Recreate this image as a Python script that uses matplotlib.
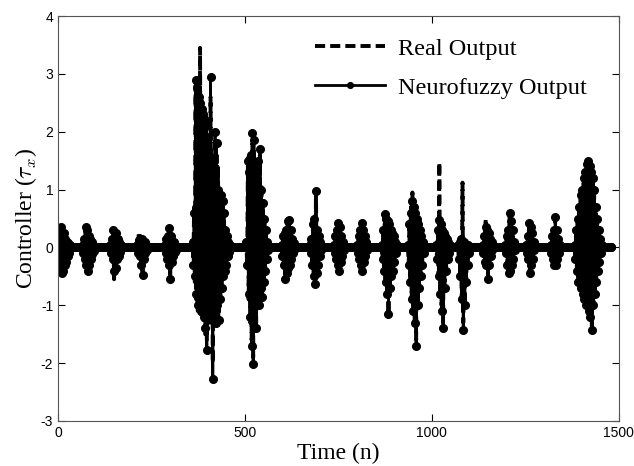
import numpy as np
import matplotlib
import matplotlib.pyplot as plt

matplotlib.use('Agg')

# sample grid of the recorded signal (every second sample is kept)
n_end = 1480
step = 2

# bursts of controller activity: start sample and values (one per kept sample)
burst_starts = [0, 66, 140, 212, 286, 360, 504, 598, 674, 738, 800,
                866, 936, 1012, 1070, 1136, 1196, 1252, 1318, 1382]

nf_bursts = [
    [0.05, -0.15, 0.3, -0.35, 0.35, -0.45, 0.2, -0.4, 0.25, -0.3, 0.15, -0.25, 0.1, -0.15, 0.08, -0.1, 0.05],
    [0.05, -0.1, 0.15, -0.2, 0.35, -0.3, 0.3, -0.4, 0.2, -0.3, 0.15, -0.2, 0.1, -0.12, 0.05, -0.06],
    [0.05, -0.1, 0.15, -0.2, 0.3, -0.4, 0.2, -0.35, 0.25, -0.2, 0.15, -0.15, 0.1, -0.08, 0.05],
    [0.05, -0.1, 0.12, -0.15, 0.1, -0.3, 0.15, -0.48, 0.1, -0.2, 0.1, -0.1, 0.05, -0.05],
    [0.05, -0.1, 0.15, -0.2, 0.2, -0.3, 0.33, -0.55, 0.2, -0.25, 0.1, -0.15, 0.1, -0.08, 0.05, -0.04],
    [0.1, -0.3, 0.6, -0.5, 2.9, -0.8, 2.75, -1.0, 2.6, -0.9, 2.5, -1.1, 2.4, -0.9, 2.3, -1.2, 2.2,
     -1.4, 2.1, -1.78, 1.9, -1.0, 1.6, -1.2, 2.94, -0.9, 1.2, -2.28, 1.5, -1.1, 2.0, -1.3, 1.8,
     -1.0, 1.0, -1.25, 0.7, -0.9, 0.9, -0.7, 0.8, -0.5, 0.6, -0.4, 0.3, -0.3, 0.2, -0.15, 0.1, -0.08, 0.05],
    [0.1, -0.3, 1.5, -0.8, 1.3, -1.2, 1.6, -1.7, 1.97, -2.02, 1.85, -1.0, 1.4, -1.4, 1.2, -0.9, 1.5,
     -1.0, 1.71, -0.7, 1.0, -0.85, 0.76, -0.6, 0.5, -0.4, 0.3, -0.2, 0.1, -0.05],
    [0.05, -0.15, 0.2, -0.3, 0.25, -0.54, 0.3, -0.45, 0.45, -0.35, 0.47, -0.3, 0.3, -0.2, 0.15, -0.1, 0.08, -0.05],
    [0.05, -0.1, 0.15, -0.3, 0.4, -0.5, 0.5, -0.63, 0.98, -0.45, 0.3, -0.3, 0.2, -0.15, 0.1, -0.05],
    [0.05, -0.1, 0.2, -0.2, 0.3, -0.3, 0.43, -0.4, 0.35, -0.25, 0.2, -0.15, 0.1, -0.05],
    [0.05, -0.1, 0.2, -0.2, 0.3, -0.3, 0.43, -0.4, 0.3, -0.25, 0.2, -0.15, 0.1, -0.05],
    [0.05, -0.2, 0.3, -0.4, 0.58, -0.6, 0.5, -0.8, 0.45, -1.15, 0.4, -0.7, 0.3, -0.5, 0.25, -0.4, 0.2,
     -0.25, 0.1, -0.1, 0.05],
    [0.05, -0.3, 0.4, -0.6, 0.6, -0.9, 0.81, -1.1, 0.7, -1.3, 0.6, -1.7, 0.5, -1.0, 0.4, -0.7, 0.3,
     -0.5, 0.2, -0.3, 0.1, -0.1],
    [0.05, -0.2, 0.3, -0.5, 0.47, -0.8, 0.4, -1.1, 0.3, -1.4, 0.25, -0.7, 0.2, -0.4, 0.15, -0.2, 0.1, -0.1, 0.05],
    [0.05, -0.2, 0.1, -0.5, 0.15, -0.9, 0.1, -1.43, 0.1, -1.0, 0.05, -0.6, 0.05, -0.3, 0.05, -0.1],
    [0.05, -0.1, 0.2, -0.25, 0.35, -0.3, 0.3, -0.54, 0.25, -0.3, 0.15, -0.15, 0.1, -0.05],
    [0.05, -0.1, 0.2, -0.3, 0.3, -0.45, 0.6, -0.4, 0.45, -0.3, 0.3, -0.2, 0.1, -0.05],
    [0.05, -0.1, 0.2, -0.2, 0.43, -0.45, 0.35, -0.3, 0.25, -0.2, 0.1, -0.05],
    [0.05, -0.1, 0.2, -0.2, 0.3, -0.31, 0.52, -0.3, 0.3, -0.2, 0.15, -0.1, 0.05],
    [0.05, -0.2, 0.3, -0.4, 0.5, -0.6, 0.7, -0.5, 0.9, -0.7, 1.0, -0.8, 1.2, -0.9, 1.3, -1.0, 1.45,
     -0.9, 1.5, -1.1, 1.4, -1.2, 1.3, -1.43, 1.2, -1.0, 1.0, -0.8, 0.7, -0.6, 0.5, -0.4, 0.3, -0.25,
     0.15, -0.1, 0.05],
]

# real output, only where it differs from the neurofuzzy output
real_bursts = {
    0: [0.05, -0.12, 0.28, -0.3, 0.3, -0.42, 0.22, -0.38, 0.2, -0.32, 0.12, -0.2, 0.1, -0.12, 0.06, -0.08, 0.04],
    2: [0.05, -0.12, 0.12, -0.25, 0.28, -0.55, 0.2, -0.3, 0.22, -0.2, 0.12, -0.12, 0.08, -0.06, 0.04],
    3: [0.05, -0.1, 0.25, -0.15, 0.2, -0.3, 0.12, -0.42, 0.1, -0.2, 0.1, -0.1, 0.05, -0.05],
    5: [0.1, -0.35, 0.7, -0.6, 2.8, -0.9, 2.9, -1.1, 2.5, -1.0, 3.45, -1.2, 2.3, -1.0, 2.4, -1.3, 2.1,
        -1.5, 2.3, -1.6, 1.8, -1.1, 1.7, -1.3, 2.6, -1.0, 1.4, -2.0, 1.3, -1.2, 1.9, -1.2, 1.6,
        -1.1, 1.38, -1.3, 0.9, -0.95, 0.8, -0.7, 0.7, -0.5, 0.5, -0.4, 0.3, -0.3, 0.2, -0.15, 0.1, -0.08, 0.05],
    6: [0.1, -0.35, 1.55, -0.9, 1.4, -1.3, 1.5, -1.6, 1.8, -1.9, 1.7, -1.1, 1.5, -1.3, 1.3, -1.0, 1.4,
        -0.9, 1.6, -0.8, 1.1, -0.8, 0.7, -0.6, 0.5, -0.4, 0.3, -0.2, 0.1, -0.05],
    12: [0.05, -0.3, 0.45, -0.6, 0.7, -0.9, 0.95, -1.1, 0.7, -1.3, 0.6, -1.6, 0.5, -1.0, 0.4, -0.7, 0.3,
         -0.5, 0.2, -0.3, 0.1, -0.1],
    13: [0.05, -0.2, 0.3, -0.5, 1.47, -0.8, 0.4, -1.0, 0.3, -1.3, 0.25, -0.7, 0.2, -0.4, 0.15, -0.2, 0.1, -0.1, 0.05],
    14: [0.05, -0.2, 0.1, -0.5, 0.15, -0.9, 1.12, -1.3, 0.1, -1.0, 0.05, -0.6, 0.05, -0.3, 0.05, -0.1],
    15: [0.05, -0.1, 0.2, -0.25, 0.5, -0.3, 0.3, -0.5, 0.25, -0.3, 0.15, -0.15, 0.1, -0.05],
}

t = np.arange(0, n_end + 1, step)
nf = np.zeros(len(t))
real = np.zeros(len(t))
for i, (start, vals) in enumerate(zip(burst_starts, nf_bursts)):
    k = start // step
    nf[k:k + len(vals)] = vals
    rv = real_bursts.get(i, vals)
    real[k:k + len(rv)] = rv

plt.rcParams['axes.unicode_minus'] = False
plt.rcParams['mathtext.fontset'] = 'cm'

fig = plt.figure(figsize=(6.34, 4.66), dpi=100)
ax = fig.add_axes([0.0915, 0.0966, 0.8845, 0.869])

ax.plot(t, real, color='black', linestyle='--', linewidth=2.8, dashes=(2.6, 1.3), label='Real Output')
ax.plot(t, nf, color='black', linestyle='-', linewidth=2, marker='o', markersize=5.5,
        label='Neurofuzzy Output')

ax.set_xlim(0, 1500)
ax.set_ylim(-3, 4)
ax.set_xticks([0, 500, 1000, 1500])
ax.set_yticks([-3, -2, -1, 0, 1, 2, 3, 4])
ax.tick_params(direction='in', top=True, right=True, length=5, labelsize=10)
for lab in ax.get_xticklabels() + ax.get_yticklabels():
    lab.set_family('Liberation Sans')
for sp in ax.spines.values():
    sp.set_color('#555555')

ax.set_xlabel('Time (n)', family='Liberation Serif', fontsize=17, labelpad=2)
ax.set_ylabel(r'Controller ($\tau_x$)', family='Liberation Serif', fontsize=17, labelpad=1)

leg = ax.legend(loc='upper left', bbox_to_anchor=(0.419, 1.0), frameon=False,
                prop={'family': 'Liberation Serif', 'size': 17.5}, handlelength=2.9,
                handletextpad=0.53, labelspacing=0.7, markerscale=0.75)

fig.savefig('out.png', dpi=100)
plt.close()
